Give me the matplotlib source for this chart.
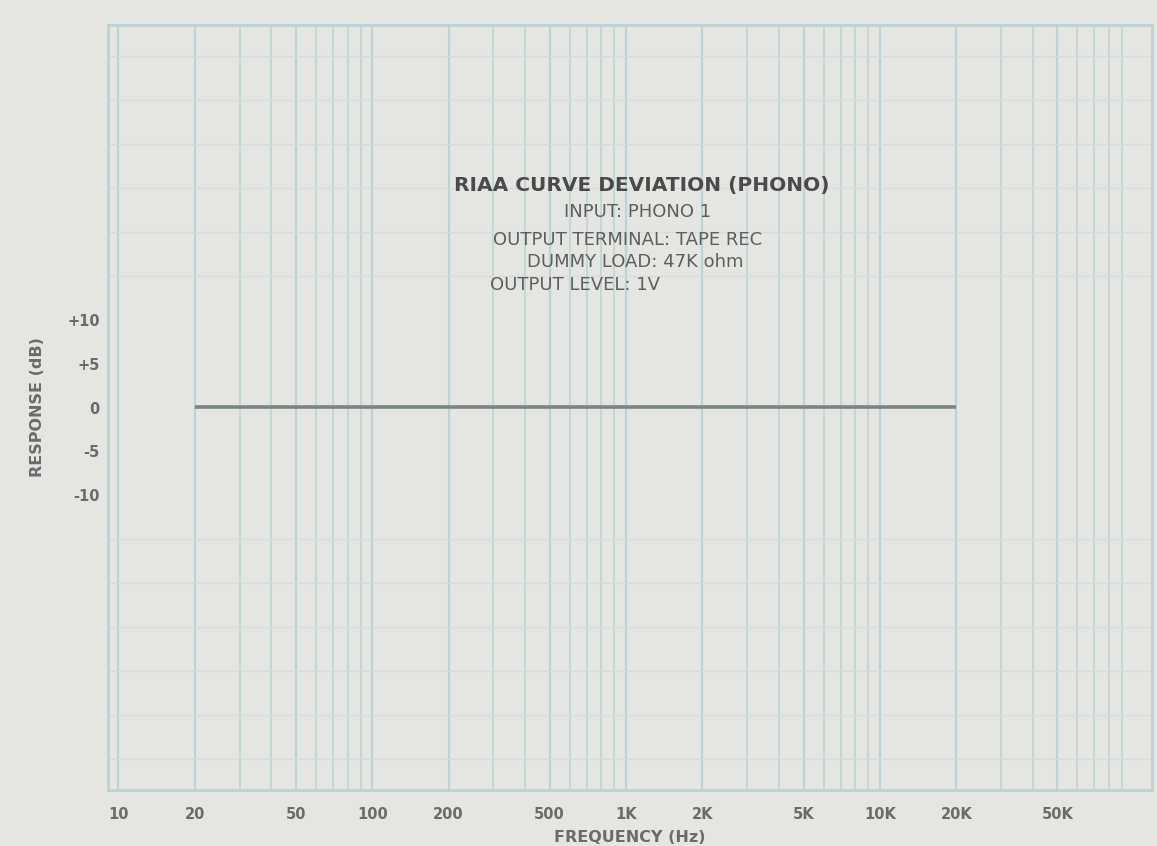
"""RIAA curve deviation (phono) - flat response plotted on log graph paper."""
import matplotlib
matplotlib.use("Agg")
import matplotlib.pyplot as plt
from matplotlib.ticker import FixedLocator, LogLocator, NullFormatter

# --- data ---
freq_hz = [20, 50, 100, 200, 500, 1000, 2000, 5000, 10000, 20000]
dev_db = [0.0, 0.0, 0.0, 0.0, 0.0, 0.0, 0.0, 0.0, 0.0, 0.0]

x_ticks = [10, 20, 50, 100, 200, 500, 1000, 2000, 5000, 10000, 20000, 50000]
x_tick_labels = ["10", "20", "50", "100", "200", "500", "1K", "2K", "5K",
                 "10K", "20K", "50K"]
y_ticks = [-10, -5, 0, 5, 10]
y_tick_labels = ["-10", "-5", "0", "+5", "+10"]

title = "RIAA CURVE DEVIATION (PHONO)"
notes = ["INPUT: PHONO 1",
         "OUTPUT TERMINAL: TAPE REC",
         "DUMMY LOAD: 47K ohm",
         "OUTPUT LEVEL: 1V"]

PAPER = "#e5e5e1"
GRID = "#b9d3d6"
INK = "#6b6b6b"

W, H = 1157, 846
fig = plt.figure(figsize=(W / 100, H / 100), dpi=100, facecolor=PAPER)
ax = fig.add_axes([108 / W, 1 - 790 / H, (1152 - 108) / W, (790 - 25) / H])
ax.set_facecolor(PAPER)

ax.plot(freq_hz, dev_db, color="#7a8484", lw=2.6, solid_capstyle="butt", zorder=3)

ax.set_xscale("log")
ax.set_xlim(9.1, 118000)
ax.set_ylim(-43.5, 43.5)

ax.xaxis.set_major_locator(FixedLocator(x_ticks))
ax.set_xticklabels(x_tick_labels)
ax.xaxis.set_minor_locator(LogLocator(base=10, subs=range(2, 10), numticks=20))
ax.xaxis.set_minor_formatter(NullFormatter())
ax.set_yticks(y_ticks)
ax.set_yticklabels(y_tick_labels)
ax.yaxis.set_minor_locator(FixedLocator(range(-40, 45, 5)))

ax.grid(True, which="major", axis="x", color=GRID, lw=1.6)
ax.grid(True, which="minor", axis="x", color=GRID, lw=1.1)
ax.grid(True, which="minor", axis="y", color="#d5dcdc", lw=0.9)
ax.set_axisbelow(True)

for s in ax.spines.values():
    s.set_color(GRID)
    s.set_linewidth(2.0)

ax.tick_params(axis="x", which="both", length=0, colors=INK, labelsize=10.5, pad=12)
ax.tick_params(axis="y", which="both", length=0, colors=INK, labelsize=10.5, pad=6)
for lbl in ax.get_xticklabels() + ax.get_yticklabels():
    lbl.set_fontweight("bold")

ax.set_xlabel("FREQUENCY (Hz)", color=INK, fontsize=11.5, fontweight="bold", labelpad=6)
ax.set_ylabel("RESPONSE (dB)", color=INK, fontsize=11.5, fontweight="bold", labelpad=16)


def px(x, y):
    return x / W, 1 - y / H


fig.text(*px(642, 185), title, ha="center", va="center", color="#4a4a4a",
         fontsize=14.5, fontweight="bold", family="DejaVu Sans")
note_pos = [(638, 212), (628, 240), (635, 262), (575, 285)]
for (x, y), t in zip(note_pos, notes):
    fig.text(*px(x, y), t, ha="center", va="center", color="#5e5e5e",
             fontsize=13, family="DejaVu Sans")

fig.savefig("out.png", dpi=100, facecolor=PAPER)
